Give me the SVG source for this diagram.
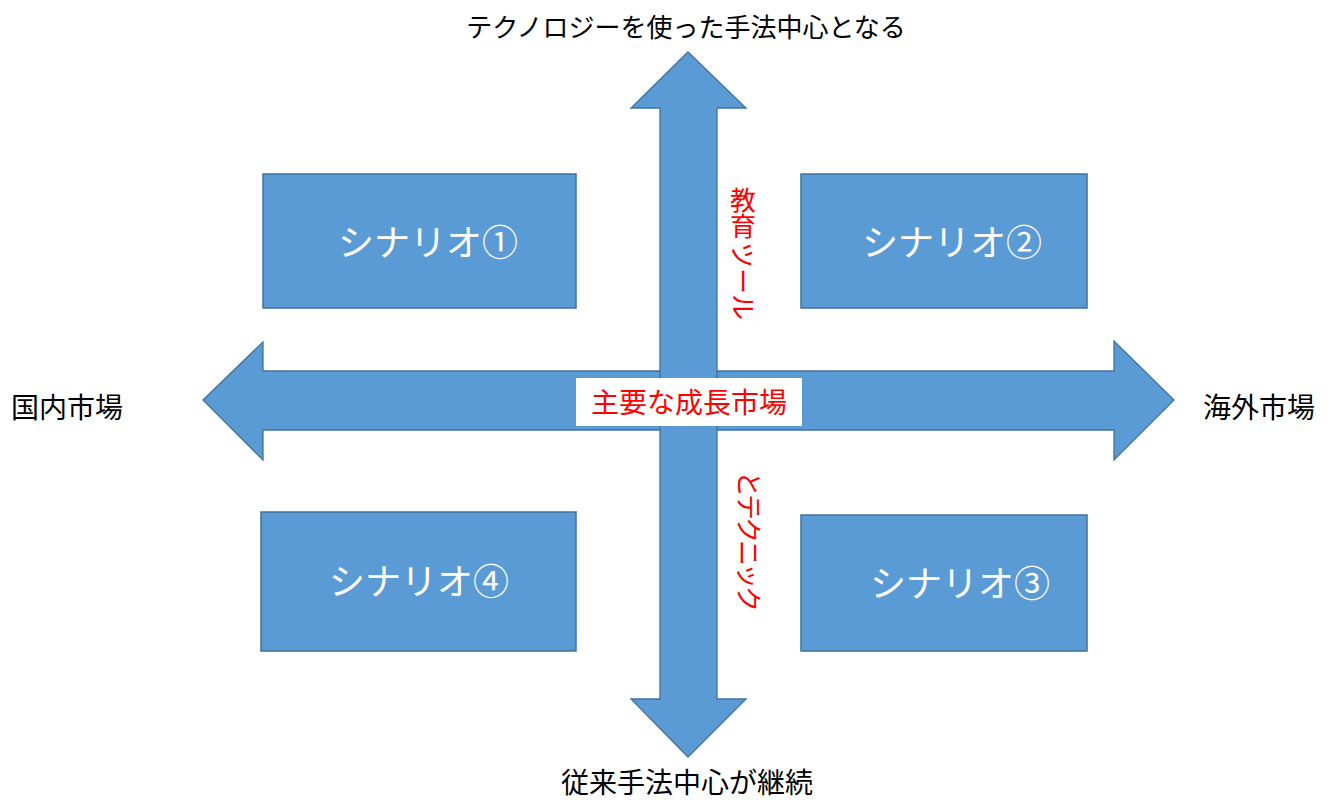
<svg xmlns="http://www.w3.org/2000/svg" width="1332" height="800" viewBox="0 0 1332 800">
<style>
.box{fill:#5B9BD5;stroke:#41719C;stroke-width:1.5}
.arr{fill:#5B9BD5;stroke:#41719C;stroke-width:1.3;stroke-linejoin:miter}
.t{font-family:"Noto Sans CJK JP","Noto Sans CJK SC",sans-serif}
.lbl{font-size:28px;fill:#000}
.box-t{font-size:36px;fill:#fff}
.red{fill:#FF0000;font-size:26px}
</style>
<rect width="1332" height="800" fill="#fff"/>
<g id="connectors">
<path class="arr" d="M203,400 L263,342 L263,371 L1114,371 L1114,341 L1174,400 L1114,460 L1114,430 L263,430 L263,460 Z"/>
<path class="arr" d="M688,52 L746,108 L717,108 L717,699 L746,699 L688,757 L631,699 L660,699 L660,108 L631,108 Z"/>
</g>
<g id="center-label">
<rect x="576" y="378" width="226" height="48" fill="#fff"/>
<text class="t red" x="689" y="413" text-anchor="middle" style="font-size:28px">主要な成長市場</text>
</g>
<g id="scenario1">
<rect class="box" x="263" y="174" width="313" height="134"/>
<text class="t box-t" x="428" y="256" text-anchor="middle">シナリオ①</text>
</g>
<g id="scenario2">
<rect class="box" x="801" y="174" width="286" height="134"/>
<text class="t box-t" x="952" y="256" text-anchor="middle">シナリオ②</text>
</g>
<g id="scenario4">
<rect class="box" x="261" y="512" width="315" height="139"/>
<text class="t box-t" x="419" y="595" text-anchor="middle">シナリオ④</text>
</g>
<g id="scenario3">
<rect class="box" x="801" y="515" width="286" height="136"/>
<text class="t box-t" x="960" y="597" text-anchor="middle">シナリオ③</text>
</g>
<g id="label-top"><text class="t lbl" x="686" y="37" text-anchor="middle" style="font-size:26px">テクノロジーを使った手法中心となる</text></g>
<g id="label-bottom"><text class="t lbl" x="687" y="793" text-anchor="middle">従来手法中心が継続</text></g>
<g id="label-left"><text class="t lbl" x="11" y="418">国内市場</text></g>
<g id="label-right"><text class="t lbl" x="1203" y="418">海外市場</text></g>
<g id="label-edu">
<text class="t red" x="743" y="187" style="writing-mode:vertical-rl">教育</text>
<text class="t red" transform="translate(733,242) rotate(90)">ツール</text>
</g>
<g id="label-tech">
<text class="t red" transform="translate(739,471) rotate(90)" letter-spacing="-3">とテクニック</text>
</g>
</svg>
